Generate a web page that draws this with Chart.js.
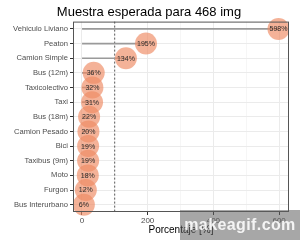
<!DOCTYPE html>
<html>
<head>
<meta charset="utf-8">
<script src="https://cdn.jsdelivr.net/npm/chart.js@4/dist/chart.umd.min.js"></script>
<style>
  html, body { margin: 0; padding: 0; background: #fff; }
  #wrap { position: relative; width: 300px; height: 240px; }
  #wm {
    position: absolute; left: 180px; top: 210px; width: 120px; height: 30px;
    background: rgba(95,95,95,0.55); color: rgba(255,255,255,0.88);
    font: bold 16px "Liberation Sans", Arial, sans-serif; letter-spacing: 0.4px;
    line-height: 30px; text-align: center; white-space: nowrap; overflow: hidden;
  }
</style>
</head>
<body>
<div id="wrap">
  <canvas id="chart" width="300" height="240"></canvas>
  <div id="wm">makeagif.com</div>
</div>
<script>
// categorias y porcentajes
const categorias = ['Vehiculo Liviano', 'Peaton', 'Camion Simple', 'Bus (12m)', 'Taxicolectivo',
  'Taxi', 'Bus (18m)', 'Camion Pesado', 'Bici', 'Taxibus (9m)', 'Moto', 'Furgon', 'Bus Interurbano'];
const porcentajes = [598, 195, 134, 36, 32, 31, 22, 20, 19, 19, 18, 12, 6];
const xTicks = [0, 100, 200, 300, 400, 500, 600];
const referencia = 100;

const panel = {
  id: 'panel',
  beforeDatasetsDraw(chart) {
    const { ctx, chartArea: a, scales } = chart;
    const x = scales.x.getPixelForValue(referencia);
    ctx.save();
    ctx.strokeStyle = '#333';
    ctx.lineWidth = 0.8;
    ctx.setLineDash([2, 2]);
    ctx.beginPath();
    ctx.moveTo(x, a.top);
    ctx.lineTo(x, a.bottom);
    ctx.stroke();
    ctx.restore();
  },
  afterDraw(chart) {
    const { ctx, chartArea: a } = chart;
    ctx.save();
    ctx.strokeStyle = '#555';
    ctx.lineWidth = 1;
    ctx.strokeRect(a.left + 0.5, a.top + 0.5, a.right - a.left - 1, a.bottom - a.top - 1);
    ctx.restore();
  }
};

const etiquetas = {
  id: 'etiquetas',
  afterDatasetsDraw(chart) {
    const { ctx } = chart;
    const meta = chart.getDatasetMeta(1);
    ctx.save();
    ctx.font = '7px "Liberation Sans", Arial, sans-serif';
    ctx.fillStyle = '#2a2a2a';
    ctx.textAlign = 'center';
    ctx.textBaseline = 'middle';
    meta.data.forEach((pt, i) => {
      ctx.fillText(porcentajes[i] + '%', pt.x, pt.y + 0.5);
    });
    ctx.restore();
  }
};

new Chart(document.getElementById('chart'), {
  type: 'bar',
  data: {
    labels: categorias,
    datasets: [
      {
        data: porcentajes,
        backgroundColor: '#9a9a9a',
        barThickness: 1,
        order: 2
      },
      {
        type: 'line',
        data: porcentajes.map((v, i) => ({ x: v, y: categorias[i] })),
        showLine: false,
        pointRadius: 11,
        pointBackgroundColor: 'rgba(239,138,98,0.66)',
        pointBorderWidth: 0,
        order: 1
      }
    ]
  },
  options: {
    indexAxis: 'y',
    responsive: false,
    animation: false,
    layout: { padding: { left: 3, right: 5, top: 0, bottom: 0 } },
    plugins: {
      legend: { display: false },
      tooltip: { enabled: false },
      title: {
        display: true,
        text: 'Muestra esperada para 468 img',
        color: '#000',
        font: { size: 13, family: '"Liberation Sans", Arial, sans-serif', weight: 'normal' },
        padding: { top: 5, bottom: 1 }
      }
    },
    scales: {
      x: {
        type: 'linear',
        min: -27,
        max: 630,
        afterBuildTicks: s => { s.ticks = xTicks.map(v => ({ value: v })); },
        afterFit: s => { s.height = 28; },
        ticks: {
          autoSkip: false,
          maxRotation: 0,
          padding: 1,
          color: '#4d4d4d',
          font: { size: 8, family: '"Liberation Sans", Arial, sans-serif' },
          callback: v => (v % 200 === 0 ? v : '')
        },
        grid: {
          color: c => (c.tick && c.tick.value % 200 === 0 ? '#ebebeb' : '#f6f6f6'),
          tickColor: c => (c.tick && c.tick.value % 200 === 0 ? '#333' : 'rgba(0,0,0,0)'),
          tickLength: 3
        },
        border: { display: false },
        title: {
          display: true,
          text: 'Porcentaje [%]',
          color: '#000',
          font: { size: 10, family: '"Liberation Sans", Arial, sans-serif' },
          padding: { top: 0, bottom: 4 }
        }
      },
      y: {
        type: 'category',
        afterFit: s => { s.width = 70; },
        ticks: {
          color: '#4d4d4d',
          padding: 2,
          font: { size: 7.6, family: '"Liberation Sans", Arial, sans-serif' }
        },
        grid: {
          offset: false,
          color: '#ebebeb',
          tickColor: '#333',
          tickLength: 3
        },
        border: { display: false }
      }
    }
  },
  plugins: [panel, etiquetas]
});
</script>
</body>
</html>
